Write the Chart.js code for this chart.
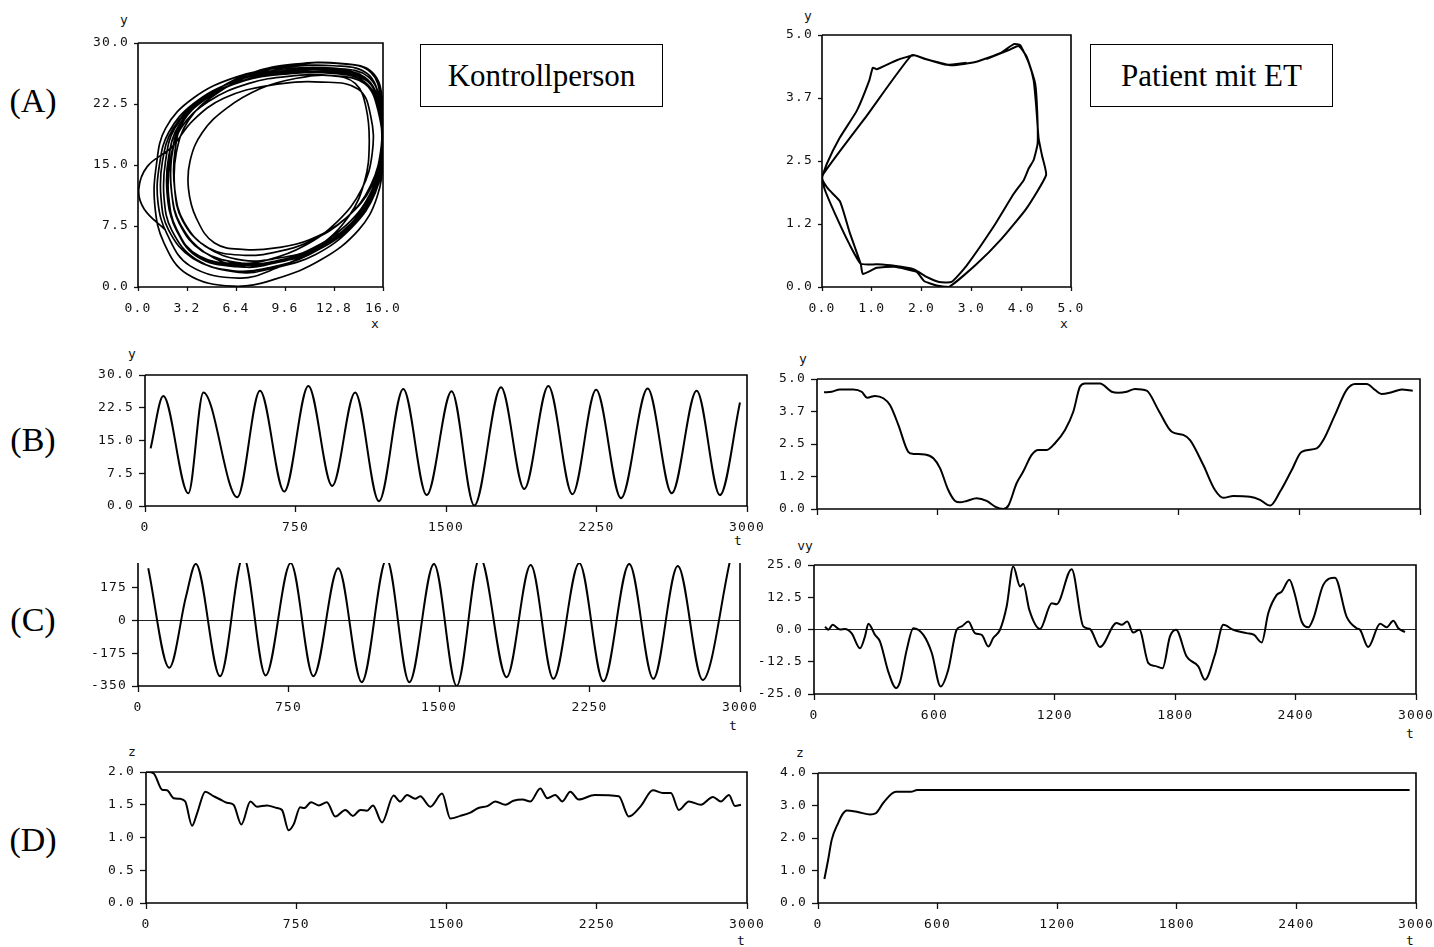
<!DOCTYPE html>
<html>
<head>
<meta charset="utf-8">
<script src="https://cdn.jsdelivr.net/npm/chart.js@4.4.1/dist/chart.umd.min.js"></script>
<style>
  body { margin: 0; background: #fff; }
  #page { position: relative; width: 1434px; height: 947px; overflow: hidden; background: #fff; }
  .panel { position: absolute; }
  .lbl { position: absolute; font-family: 'Liberation Serif', 'Times New Roman', serif; font-size: 34px; color: #000; transform: translate(-50%, -50%); }
  .ax { position: absolute; font-family: 'DejaVu Sans Mono', monospace; font-size: 13px; color: #111; transform: translate(-50%, -50%); }
  .box { position: absolute; border: 1.5px solid #000; box-sizing: border-box; font-family: 'Liberation Serif', 'Times New Roman', serif; font-size: 31px; color: #000; display: flex; align-items: center; justify-content: center; }
</style>
</head>
<body>
<div id="page">
  <div class="lbl" style="left:33px;top:101px">(A)</div>
  <div class="lbl" style="left:33px;top:440px">(B)</div>
  <div class="lbl" style="left:33px;top:620px">(C)</div>
  <div class="lbl" style="left:33px;top:840px">(D)</div>
  <div class="box" style="left:420px;top:44px;width:243px;height:63px">Kontrollperson</div>
  <div class="box" style="left:1090px;top:44px;width:243px;height:63px">Patient mit ET</div>

  <div class="ax" style="left:124px;top:19px">y</div>
  <div class="ax" style="left:375px;top:323px">x</div>
  <div class="ax" style="left:808px;top:15px">y</div>
  <div class="ax" style="left:1064px;top:323px">x</div>
  <div class="ax" style="left:132px;top:353px">y</div>
  <div class="ax" style="left:738px;top:540px">t</div>
  <div class="ax" style="left:803px;top:358px">y</div>
  <div class="ax" style="left:733px;top:725px">t</div>
  <div class="ax" style="left:805px;top:545px">vy</div>
  <div class="ax" style="left:1410px;top:733px">t</div>
  <div class="ax" style="left:132px;top:751px">z</div>
  <div class="ax" style="left:741px;top:940px">t</div>
  <div class="ax" style="left:800px;top:752px">z</div>
  <div class="ax" style="left:1410px;top:940px">t</div>
</div>
<script>
// ---- (A) phase plots: x against y ----
const ctrlPhaseX = [
  1.8, 0.4, 0.05, 0.6, 2.2, 3.6, 5.6, 8.6, 12.0, 14.4, 15.2, 15.3, 14.6, 13.0, 10.8, 8.6, 6.5,
  4.0, 2.5, 2.0, 2.1, 2.8, 4.6, 7.2, 9.8, 12.6, 14.8, 15.7, 15.9, 15.2, 13.6, 11.2, 8.6, 6.2,
  3.6, 2.0, 1.5, 1.6, 2.3, 4.0, 6.6, 9.4, 12.4, 14.9, 15.8, 16.0, 15.5, 14.0, 11.6, 9.0, 6.8,
  4.4, 2.9, 2.4, 2.5, 3.3, 5.0, 7.6, 10.2, 13.0, 15.2, 15.9, 16.0, 15.3, 13.6, 11.2, 9.0, 7.0,
  5.0, 3.8, 3.3, 3.4, 4.2, 5.8, 8.0, 10.2, 12.6, 14.2, 14.9, 15.1, 14.8, 13.8, 11.8, 9.0, 6.6,
  3.4, 1.9, 1.3, 1.4, 2.0, 3.6, 6.2, 9.2, 12.4, 14.8, 15.8, 16.0, 15.6, 14.2, 11.8, 9.0, 6.4,
  3.8, 2.4, 1.9, 2.0, 2.7, 4.4, 7.0, 9.8, 12.5, 14.8, 15.8, 16.0, 15.6, 14.4, 12.0, 9.0, 6.2,
  3.2, 1.7, 1.1, 1.2, 1.8, 3.6, 6.4, 9.6, 12.8, 15.0, 15.8, 15.9, 15.2, 13.6, 11.2, 9.0, 7.0,
  4.6, 3.0, 2.4, 2.4, 3.0, 4.8, 7.4, 10.2, 13.2, 15.3, 16.0, 16.0, 15.3, 13.6, 11.0, 8.6, 6.6,
  4.0, 2.5, 2.0, 2.0, 2.6, 4.3, 6.9, 9.7, 12.6, 14.9, 15.8, 16.0, 15.5, 14.0, 11.6, 8.8, 6.6,
  3.8, 2.2, 1.7, 1.8, 2.4, 4.1, 6.7, 9.6, 12.7, 15.0, 15.9, 16.0, 15.4, 13.9, 11.4, 9.0, 6.9,
  4.2, 2.7, 2.2, 2.2, 2.8, 4.5, 7.0, 9.8, 12.6, 14.9, 15.7, 15.9, 15.4, 13.8, 11.4, 8.8, 6.8,
  4.4, 2.8, 2.2, 2.2, 2.8, 3.8, 4.6
];
const ctrlPhaseY = [
  7.0, 9.6, 12.0, 14.8, 17.2, 20.5, 23.2, 24.8, 25.2, 24.3, 21.0, 16.5, 12.0, 8.0, 5.0, 3.4, 2.9,
  3.8, 7.0, 11.0, 15.5, 19.5, 22.8, 25.0, 25.9, 26.0, 25.0, 21.5, 16.5, 11.5, 7.2, 4.0, 2.4, 2.0,
  3.5, 7.0, 11.0, 15.5, 19.5, 22.8, 25.2, 26.3, 26.4, 25.4, 22.0, 17.0, 12.0, 7.8, 4.8, 3.5, 3.3,
  5.0, 8.2, 12.0, 16.5, 20.5, 23.6, 26.2, 27.3, 27.5, 26.4, 22.5, 17.5, 12.5, 8.5, 5.8, 4.8, 4.6,
  5.4, 8.5, 12.0, 15.5, 19.0, 22.0, 24.4, 25.6, 26.0, 25.0, 22.0, 17.5, 13.0, 8.8, 5.0, 2.3, 1.1,
  2.6, 6.5, 10.5, 15.0, 19.0, 22.5, 25.2, 26.5, 26.8, 25.8, 22.3, 17.0, 12.2, 8.0, 4.6, 3.0, 2.5,
  3.8, 7.5, 11.5, 16.0, 20.0, 23.2, 25.4, 26.2, 26.3, 25.2, 21.5, 16.0, 11.0, 7.0, 3.4, 1.0, 0.1,
  1.6, 5.4, 10.0, 15.0, 19.5, 23.2, 25.8, 27.0, 27.2, 26.2, 22.5, 17.5, 12.5, 8.5, 5.6, 4.3, 3.9,
  4.8, 8.0, 12.0, 16.5, 20.5, 23.8, 26.3, 27.4, 27.5, 26.4, 22.5, 17.0, 12.0, 7.6, 4.4, 3.0, 2.7,
  3.6, 7.2, 11.2, 15.6, 19.6, 23.0, 25.4, 26.5, 26.6, 25.6, 22.0, 16.6, 11.6, 7.4, 4.0, 2.3, 1.8,
  3.4, 7.0, 11.0, 15.5, 19.5, 23.0, 25.6, 26.8, 26.9, 25.9, 22.2, 17.0, 12.0, 7.8, 4.6, 3.2, 2.9,
  4.4, 7.8, 11.6, 16.0, 20.0, 23.2, 25.4, 26.3, 26.4, 25.5, 22.0, 16.8, 11.8, 7.6, 4.4, 2.9, 2.5,
  4.2, 7.6, 11.5, 16.0, 20.0, 22.4, 23.7
];
const patPhaseX = [
  2.9, 2.5, 2.1, 1.85, 1.5, 1.1, 1.02, 0.95, 0.7, 0.35, 0.1, 0.0, 0.12, 0.36, 0.55, 0.78, 0.82,
  1.1, 1.45, 1.9, 2.05, 2.3, 2.55, 3.1, 3.6, 4.1, 4.5, 4.42, 4.35, 4.3, 4.25, 4.15, 3.98, 3.85,
  3.6, 3.1, 2.6, 2.05, 1.8, 0.9, 0.0, 0.05, 0.29, 0.55, 0.78, 1.1, 1.45, 1.85, 2.1, 2.35, 2.6,
  2.9, 3.44, 3.85, 4.05, 4.15, 4.25, 4.33, 4.32, 4.28, 4.11, 3.95, 3.75, 3.5, 3.3
];
const patPhaseY = [
  4.45, 4.41, 4.52, 4.6, 4.5, 4.32, 4.35, 4.1, 3.5, 2.95, 2.45, 2.15, 1.95, 1.7, 1.1, 0.45, 0.26,
  0.38, 0.4, 0.3, 0.12, 0.03, 0.0, 0.45, 0.95, 1.55, 2.22, 2.6, 2.95, 3.6, 4.1, 4.45, 4.8, 4.82,
  4.65, 4.47, 4.4, 4.53, 4.6, 3.4, 2.2, 1.95, 1.39, 0.85, 0.46, 0.45, 0.42, 0.35, 0.2, 0.1, 0.1,
  0.42, 1.19, 1.85, 2.12, 2.35, 2.52, 2.85, 3.51, 4.04, 4.57, 4.78, 4.7, 4.6, 4.52
];

// ---- (B) position over time ----
const ctrlPosT = [28, 91, 216, 291, 460, 573, 694, 814, 933, 1047, 1166, 1287, 1404, 1528, 1641, 1774, 1890, 2010, 2130, 2248, 2372, 2505, 2625, 2749, 2865, 2965];
const ctrlPosY = [13.2, 25.2, 2.9, 26.0, 2.0, 26.4, 3.3, 27.5, 4.6, 26.0, 1.1, 26.8, 2.5, 26.3, 0.1, 27.2, 3.9, 27.5, 2.7, 26.6, 1.8, 26.9, 2.9, 26.4, 2.5, 23.7];
const patPosT = [35, 73, 114, 181, 222, 250, 289, 330, 363, 405, 454, 479, 537, 579, 612, 653, 687, 711, 745, 794, 844, 886, 927, 952, 993, 1026, 1068, 1101, 1143, 1184, 1234, 1275, 1308, 1333, 1408, 1466, 1499, 1541, 1582, 1640, 1698, 1765, 1822, 1856, 1922, 1980, 2022, 2071, 2154, 2204, 2254, 2304, 2362, 2411, 2486, 2519, 2577, 2635, 2677, 2735, 2776, 2809, 2859, 2909, 2964];
const patPosY = [4.49, 4.51, 4.6, 4.6, 4.51, 4.28, 4.35, 4.26, 4.0, 3.23, 2.2, 2.12, 2.1, 1.95, 1.57, 0.73, 0.31, 0.26, 0.31, 0.41, 0.31, 0.09, 0.0, 0.13, 0.99, 1.44, 2.08, 2.27, 2.27, 2.53, 3.04, 3.74, 4.7, 4.83, 4.83, 4.51, 4.47, 4.51, 4.62, 4.55, 3.81, 2.97, 2.85, 2.65, 1.69, 0.73, 0.43, 0.5, 0.47, 0.35, 0.13, 0.67, 1.5, 2.2, 2.33, 2.65, 3.62, 4.58, 4.81, 4.81, 4.58, 4.42, 4.49, 4.6, 4.55];

// ---- (C) velocity over time ----
const ctrlVelT = [51, 156, 239, 288, 409, 525, 636, 761, 874, 998, 1115, 1239, 1352, 1475, 1588, 1704, 1837, 1957, 2070, 2199, 2319, 2448, 2568, 2690, 2814, 2950];
const ctrlVelY = [277, -253, 125, 300, -298, 340, -294, 305, -298, 277, -330, 325, -330, 300, -350, 335, -303, 294, -312, 305, -325, 300, -312, 289, -318, 315];
const patVelT = [55, 71, 93, 130, 154, 188, 229, 254, 271, 304, 329, 370, 409, 429, 462, 495, 545, 587, 631, 669, 711, 736, 769, 802, 836, 869, 893, 927, 960, 993, 1027, 1043, 1073, 1126, 1185, 1209, 1284, 1342, 1375, 1425, 1508, 1533, 1561, 1591, 1621, 1666, 1699, 1737, 1774, 1804, 1857, 1915, 1948, 1998, 2040, 2089, 2156, 2193, 2231, 2264, 2306, 2331, 2369, 2397, 2430, 2464, 2489, 2538, 2596, 2654, 2704, 2721, 2762, 2821, 2854, 2887, 2912, 2945];
const patVelY = [1.1, -0.1, 1.8, 0, 0.2, -1.5, -7.3, -2.7, 2.2, -2.1, -4.7, -16.3, -22.7, -20.2, -7.9, 0.5, -2.1, -9.1, -22.1, -15.6, -0.1, 1.2, 3.1, -1.4, -2.1, -6.6, -3.3, -0.1, 8.9, 24.4, 16.7, 17.7, 7.6, 0.2, 10.2, 9.8, 23.4, 1.2, 0.2, -6.8, 2.5, 1.8, 3.1, -1.2, -0.1, -13.0, -14.1, -15.0, -2.7, -0.1, -10.5, -14.3, -19.5, -9.8, 1.8, -0.1, -1.4, -2.1, -5.0, 6.4, 13.4, 14.7, 19.3, 13.4, 3.1, 0.9, 4.4, 17.3, 20.1, 5.0, 0.5, -0.1, -6.8, 2.2, 0.9, 3.4, 0.5, -1.0];

// ---- (D) z over time ----
const ctrlZT = [5, 38, 80, 105, 138, 171, 196, 230, 255, 296, 337, 371, 404, 437, 476, 521, 554, 604, 654, 679, 712, 737, 770, 790, 824, 862, 903, 945, 995, 1033, 1070, 1103, 1133, 1178, 1236, 1269, 1303, 1344, 1369, 1419, 1478, 1519, 1569, 1619, 1659, 1704, 1744, 1794, 1834, 1879, 1919, 1968, 2003, 2043, 2078, 2118, 2160, 2240, 2360, 2410, 2470, 2530, 2580, 2620, 2660, 2710, 2770, 2830, 2870, 2910, 2940, 2970];
const ctrlZ = [2.0, 1.98, 1.73, 1.72, 1.6, 1.59, 1.55, 1.18, 1.37, 1.7, 1.63, 1.58, 1.53, 1.5, 1.2, 1.55, 1.47, 1.49, 1.45, 1.42, 1.11, 1.2, 1.46, 1.45, 1.54, 1.49, 1.54, 1.32, 1.42, 1.33, 1.42, 1.41, 1.49, 1.23, 1.64, 1.55, 1.65, 1.59, 1.63, 1.47, 1.67, 1.29, 1.33, 1.38, 1.45, 1.48, 1.55, 1.5, 1.56, 1.58, 1.55, 1.75, 1.6, 1.65, 1.55, 1.7, 1.58, 1.65, 1.63, 1.32, 1.48, 1.72, 1.68, 1.68, 1.42, 1.55, 1.5, 1.62, 1.55, 1.65, 1.48, 1.5];
const patZT = [32, 50, 69, 101, 125, 144, 200, 262, 290, 330, 391, 466, 498, 2968];
const patZ = [0.74, 1.3, 1.95, 2.46, 2.75, 2.85, 2.8, 2.72, 2.76, 3.1, 3.42, 3.42, 3.48, 3.48];

// ---- tick values and labels ----
const phaseXTicksCtrl = [0, 3.2, 6.4, 9.6, 12.8, 16];
const phaseXLabelsCtrl = ['0.0', '3.2', '6.4', '9.6', '12.8', '16.0'];
const phaseXTicksPat = [0, 1, 2, 3, 4, 5];
const phaseXLabelsPat = ['0.0', '1.0', '2.0', '3.0', '4.0', '5.0'];
const posTicksCtrl = [0, 7.5, 15, 22.5, 30];
const posLabelsCtrl = ['0.0', '7.5', '15.0', '22.5', '30.0'];
const posTicksPat = [0, 1.25, 2.5, 3.75, 5];
const posLabelsPat = ['0.0', '1.2', '2.5', '3.7', '5.0'];
const velTicksCtrl = [-350, -175, 0, 175];
const velLabelsCtrl = ['-350', '-175', '0', '175'];
const velTicksPat = [-25, -12.5, 0, 12.5, 25];
const velLabelsPat = ['-25.0', '-12.5', '0.0', '12.5', '25.0'];
const zTicksCtrl = [0, 0.5, 1, 1.5, 2];
const zLabelsCtrl = ['0.0', '0.5', '1.0', '1.5', '2.0'];
const zTicksPat = [0, 1, 2, 3, 4];
const zLabelsPat = ['0.0', '1.0', '2.0', '3.0', '4.0'];
const timeTicksCtrl = [0, 750, 1500, 2250, 3000];
const timeLabelsCtrl = ['0', '750', '1500', '2250', '3000'];
const timeTicksPat = [0, 600, 1200, 1800, 2400, 3000];
const timeLabelsPat = ['0', '600', '1200', '1800', '2400', '3000'];

const YW = 62, XH = 36, PL = 6, PT = 14, PR = 36, PB = 4;
const page = document.getElementById('page');
const tickFont = { family: "'DejaVu Sans Mono', monospace", size: 13 };

// box around the plot area (C-left has an open top)
const framePlugin = {
  id: 'frame',
  beforeDraw(chart) { chart.ctx.letterSpacing = '1.2px'; },
  afterDatasetsDraw(chart, args, opts) {
    const { ctx, chartArea: a } = chart;
    ctx.save();
    ctx.strokeStyle = '#000';
    ctx.lineWidth = 1.6;
    ctx.beginPath();
    ctx.moveTo(a.left, a.top);
    ctx.lineTo(a.left, a.bottom);
    ctx.lineTo(a.right, a.bottom);
    ctx.lineTo(a.right, a.top);
    if (opts.top !== false) ctx.lineTo(a.left, a.top);
    ctx.stroke();
    ctx.restore();
  }
};

function pts(xs, ys) {
  return xs.map((x, i) => ({ x: x, y: ys[i] }));
}

function axis(dir, min, max, vals, labels, o) {
  o = o || {};
  const tl = o.tick || 6;
  return {
    type: 'linear',
    min: min,
    max: max,
    afterBuildTicks: s => { s.ticks = vals.map(v => ({ value: v })); },
    afterFit: s => { if (dir === 'y') s.width = YW; else s.height = XH; },
    ticks: {
      display: o.labels !== false,
      callback: (v, i) => labels[i],
      autoSkip: false,
      maxRotation: 0,
      padding: dir === 'y' ? 5 : 14 - tl,
      color: '#111',
      font: tickFont
    },
    grid: {
      drawOnChartArea: !!o.zero,
      color: c => (c.tick && c.tick.value === 0) ? '#222' : 'rgba(0,0,0,0)',
      lineWidth: 1,
      tickColor: '#111',
      tickLength: tl,
      tickWidth: 1.3
    },
    border: { display: false }
  };
}

function panel(box, type, data, xs, ys, frameOpts, extra) {
  const div = document.createElement('div');
  div.className = 'panel';
  div.style.left = (box.l - YW - PL) + 'px';
  div.style.top = (box.t - PT) + 'px';
  const cv = document.createElement('canvas');
  cv.width = box.r - box.l + YW + PL + PR;
  cv.height = box.b - box.t + PT + XH + PB;
  div.appendChild(cv);
  page.appendChild(div);
  new Chart(cv, {
    type: type,
    data: {
      datasets: [Object.assign({
        data: data,
        borderColor: '#000',
        borderWidth: 2,
        pointRadius: 0,
        showLine: true,
        fill: false
      }, extra)]
    },
    options: {
      responsive: false,
      animation: false,
      events: [],
      layout: { padding: { left: PL, top: PT, right: PR, bottom: PB } },
      plugins: { legend: { display: false }, tooltip: { enabled: false }, frame: frameOpts || {} },
      scales: { x: xs, y: ys }
    },
    plugins: [framePlugin]
  });
}

// (A) Kontrollperson / Patient
panel({ l: 138, t: 43, r: 383, b: 287 }, 'scatter', pts(ctrlPhaseX, ctrlPhaseY),
  axis('x', 0, 16, phaseXTicksCtrl, phaseXLabelsCtrl, { tick: 4 }),
  axis('y', 0, 30, posTicksCtrl, posLabelsCtrl, { tick: 4 }),
  {}, { tension: 0.4, borderWidth: 1.7 });
panel({ l: 822, t: 35, r: 1071, b: 287 }, 'scatter', pts(patPhaseX, patPhaseY),
  axis('x', 0, 5, phaseXTicksPat, phaseXLabelsPat, { tick: 4 }),
  axis('y', 0, 5, posTicksPat, posLabelsPat, { tick: 4 }),
  {}, { tension: 0.15, borderWidth: 2 });

// (B) y(t)
panel({ l: 145, t: 375, r: 747, b: 506 }, 'line', pts(ctrlPosT, ctrlPosY),
  axis('x', 0, 3000, timeTicksCtrl, timeLabelsCtrl),
  axis('y', 0, 30, posTicksCtrl, posLabelsCtrl),
  {}, { cubicInterpolationMode: 'monotone' });
panel({ l: 817, t: 379, r: 1420, b: 509 }, 'line', pts(patPosT, patPosY),
  axis('x', 0, 3000, timeTicksPat, timeLabelsPat, { labels: false }),
  axis('y', 0, 5, posTicksPat, posLabelsPat),
  {}, { cubicInterpolationMode: 'monotone' });

// (C) vy(t)
panel({ l: 138, t: 563, r: 740, b: 686 }, 'line', pts(ctrlVelT, ctrlVelY),
  axis('x', 0, 3000, timeTicksCtrl, timeLabelsCtrl),
  axis('y', -350, 305, velTicksCtrl, velLabelsCtrl, { zero: true }),
  { top: false }, { cubicInterpolationMode: 'monotone', clip: 0 });
panel({ l: 814, t: 565, r: 1416, b: 694 }, 'line', pts(patVelT, patVelY),
  axis('x', 0, 3000, timeTicksPat, timeLabelsPat),
  axis('y', -25, 25, velTicksPat, velLabelsPat, { zero: true }),
  {}, { cubicInterpolationMode: 'monotone' });

// (D) z(t)
panel({ l: 146, t: 772, r: 747, b: 903 }, 'line', pts(ctrlZT, ctrlZ),
  axis('x', 0, 3000, timeTicksCtrl, timeLabelsCtrl),
  axis('y', 0, 2, zTicksCtrl, zLabelsCtrl),
  {}, { cubicInterpolationMode: 'monotone' });
panel({ l: 818, t: 773, r: 1416, b: 903 }, 'line', pts(patZT, patZ),
  axis('x', 0, 3000, timeTicksPat, timeLabelsPat),
  axis('y', 0, 4, zTicksPat, zLabelsPat),
  {}, { cubicInterpolationMode: 'monotone' });
</script>
</body>
</html>
